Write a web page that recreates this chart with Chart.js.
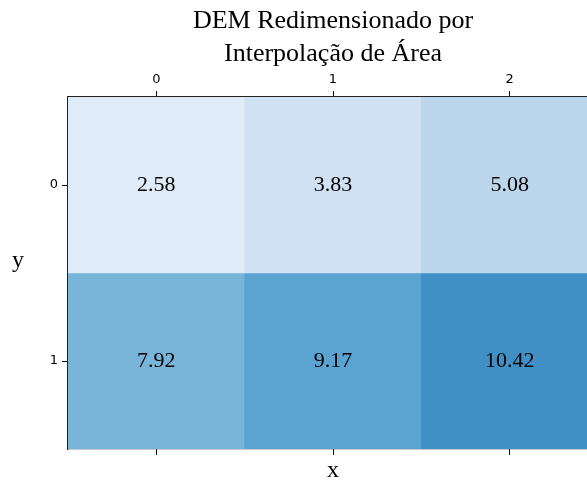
<!DOCTYPE html>
<html>
<head>
<meta charset="utf-8">
<script src="https://cdn.jsdelivr.net/npm/chart.js@4/dist/chart.umd.min.js"></script>
<style>
  html, body { margin: 0; padding: 0; background: #fff; overflow: hidden; }
  body { width: 587px; height: 481px; }
  #wrap { width: 666px; height: 481px; position: relative; }
</style>
</head>
<body>
<div id="wrap"><canvas id="c" width="666" height="481"></canvas></div>
<script>
// Resampled DEM grid (rows = y, columns = x)
const xLabels = ['0', '1', '2'];
const yLabels = ['0', '1'];
const row0 = [2.58, 3.83, 5.08];
const row1 = [7.92, 9.17, 10.42];
const rows = [row0, row1];

// Colour normalisation range for the Blues map
const colorMin = 0.7;
const colorMax = 16.1;

// Matplotlib "Blues" colour stops
const bluesStops = ['#f7fbff', '#deebf7', '#c6dbef', '#9ecae1', '#6baed6',
                    '#4292c6', '#2171b5', '#08519c', '#08306b'];

function hexToRgb(h) {
  return [parseInt(h.slice(1, 3), 16), parseInt(h.slice(3, 5), 16), parseInt(h.slice(5, 7), 16)];
}
function blues(t) {
  t = Math.max(0, Math.min(1, t));
  const pos = t * (bluesStops.length - 1);
  const i = Math.min(Math.floor(pos), bluesStops.length - 2);
  const f = pos - i;
  const a = hexToRgb(bluesStops[i]), b = hexToRgb(bluesStops[i + 1]);
  const c = a.map((v, k) => Math.round(v + (b[k] - v) * f));
  return `rgb(${c[0]},${c[1]},${c[2]})`;
}

const datasets = rows.map((vals, r) => ({
  label: 'y=' + yLabels[r],
  data: vals.map((v, i) => ({ x: xLabels[i], y: [r - 0.5, r + 0.5], v: v })),
  backgroundColor: ctx => blues((ctx.raw.v - colorMin) / (colorMax - colorMin)),
  borderWidth: 0,
  borderSkipped: false,
  barPercentage: 1.0,
  categoryPercentage: 1.0,
  grouped: false,
  xAxisID: 'x',
  yAxisID: 'y'
}));

const serif = '"Liberation Serif", "DejaVu Serif", serif';
const sans = '"DejaVu Sans", sans-serif';

// Writes each cell's value and the axis labels
const annotate = {
  id: 'annotate',
  afterDatasetsDraw(chart) {
    const { ctx, scales } = chart;
    ctx.save();
    ctx.fillStyle = '#000';
    ctx.textAlign = 'center';
    ctx.textBaseline = 'middle';
    ctx.font = '22px ' + serif;
    rows.forEach((vals, r) => {
      vals.forEach((v, i) => {
        const px = scales.x.getPixelForValue(i);
        const py = scales.y.getPixelForValue(r);
        ctx.fillText(v.toFixed(2), px, py);
      });
    });
    ctx.restore();
  },
  afterDraw(chart) {
    const { ctx, chartArea } = chart;
    ctx.save();
    ctx.fillStyle = '#000';
    ctx.textAlign = 'center';
    ctx.textBaseline = 'middle';
    ctx.font = '24px ' + serif;
    ctx.fillText('y', 18, (chartArea.top + chartArea.bottom) / 2 - 12);
    ctx.fillText('x', (chartArea.left + chartArea.right) / 2, chartArea.bottom + 22);
    ctx.restore();
  }
};

const tickGrid = { display: true, drawOnChartArea: false, drawTicks: true, tickLength: 6, color: '#000', offset: false };

new Chart(document.getElementById('c'), {
  type: 'bar',
  data: { labels: xLabels, datasets: datasets },
  options: {
    responsive: false,
    animation: false,
    layout: { padding: 0 },
    plugins: {
      legend: { display: false },
      tooltip: { enabled: false },
      title: {
        display: true,
        text: ['DEM Redimensionado por', 'Interpolação de Área'],
        color: '#000',
        font: { family: serif, size: 26, weight: 'normal', lineHeight: 1.27 },
        padding: { top: 5, bottom: 0 }
      }
    },
    scales: {
      x: {
        type: 'category',
        position: 'top',
        offset: true,
        grid: tickGrid,
        border: { display: true, color: '#222', width: 1.2 },
        ticks: { color: '#000', font: { family: sans, size: 13, lineHeight: 1.2 }, padding: 4, maxRotation: 0, autoSkip: false },
        afterFit(scale) { scale.height = 26; }
      },
      x2: {
        type: 'category',
        labels: xLabels,
        position: 'bottom',
        offset: true,
        grid: tickGrid,
        border: { display: true, color: '#222', width: 1.2 },
        ticks: { display: false },
        afterFit(scale) { scale.height = 32; }
      },
      y: {
        type: 'linear',
        position: 'left',
        reverse: true,
        min: -0.5,
        max: 1.5,
        afterBuildTicks(scale) { scale.ticks = yLabels.map((l, i) => ({ value: i })); },
        grid: tickGrid,
        border: { display: true, color: '#222', width: 1.2 },
        ticks: { color: '#000', font: { family: sans, size: 13 }, padding: 4,
                 callback: v => yLabels[v] },
        afterFit(scale) { scale.width = 68; }
      },
      // empty spacer on the right so the title centres over the grid
      yRight: {
        type: 'linear',
        position: 'right',
        display: true,
        grid: { display: false, drawTicks: false },
        border: { display: false },
        ticks: { display: false },
        afterFit(scale) { scale.width = 68; }
      }
    }
  },
  plugins: [annotate]
});
</script>
</body>
</html>
